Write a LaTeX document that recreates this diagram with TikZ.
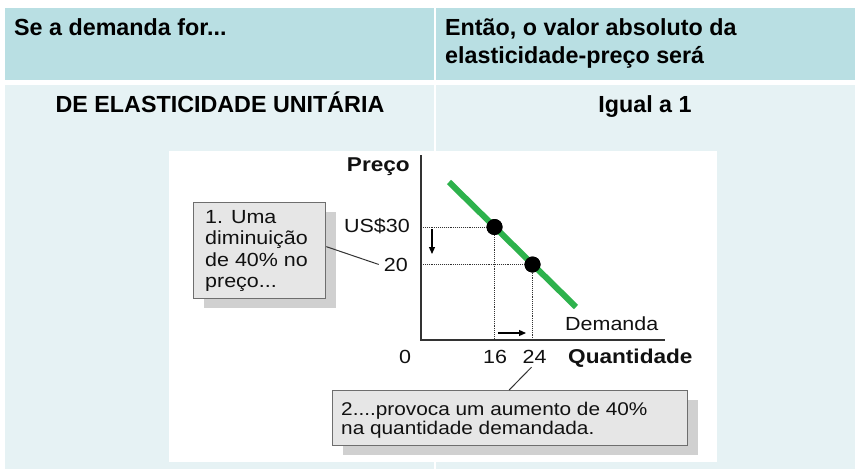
\documentclass[tikz,border=0pt]{standalone}
\usepackage{fontspec}
\setmainfont{Liberation Sans}
\newfontfamily\grf[FakeStretch=1.13]{Liberation Sans}
\usetikzlibrary{arrows.meta,shadows}
\definecolor{hdr}{HTML}{B9DFE3}
\definecolor{bdy}{HTML}{E6F2F4}
\definecolor{dgreen}{HTML}{2DB24C}
\definecolor{boxfill}{HTML}{E6E6E6}
\definecolor{shadowgray}{HTML}{D0D0D0}
\definecolor{boxline}{HTML}{6E6E6E}
\definecolor{axisc}{HTML}{333333}
\definecolor{txt}{HTML}{111111}
\tikzset{
  headtxt/.style={inner sep=0pt, text=black, font=\bfseries\fontsize{23.3}{28}\selectfont},
  gtxt/.style={inner sep=0pt, text=txt, font=\grf\fontsize{19}{21.5}\selectfont},
  gbold/.style={inner sep=0pt, text=txt, font=\grf\bfseries\fontsize{20}{22}\selectfont},
  cbox/.style={draw=boxline, line width=1.3pt, fill=boxfill, inner sep=0pt,
    drop shadow={shadow xshift=10pt, shadow yshift=-9pt, fill=shadowgray, opacity=1}},
  leader/.style={draw=axisc, line width=1pt},
  axisline/.style={draw=axisc, line width=1.8pt},
  guide/.style={draw=axisc, line width=0.9pt, densely dotted},
  dot/.style={circle, fill=black, inner sep=0pt, minimum size=16pt},
  smallarrow/.style={draw=black, line width=1.2pt, -{Triangle[length=7pt,width=6pt]}},
}
\begin{document}
\begin{tikzpicture}[x=1pt,y=-1pt]
\useasboundingbox (0,0) rectangle (855,469);
\fill[white] (0,0) rectangle (855,469);
% table
\fill[hdr] (5,8) rectangle (855,80);
\fill[bdy] (5,85) rectangle (855,469);
\draw[white, line width=2.5pt] (435,8) -- (435,469);
\node[headtxt, anchor=base west] (h1) at (14,35) {Se a demanda for...};
\node[headtxt, anchor=base west, align=left] (h2) at (445,63) {Então, o valor absoluto da\\elasticidade-preço será};
\node[headtxt, anchor=base] (r1) at (220,112) {DE ELASTICIDADE UNITÁRIA};
\node[headtxt, anchor=base] (r2) at (645,112) {Igual a 1};
% figure
\fill[white] (169,151) rectangle (717,462);
\coordinate (O) at (421,340);
\coordinate (ytop) at (421,155);
\coordinate (xend) at (665,340);
\coordinate (d1) at (449,182);
\coordinate (d2) at (576,307);
\node[dot] (p1) at (494.5,227) {};
\node[dot] (p2) at (532.5,264.5) {};
\draw[guide] (O |- p1) -- (p1.center) -- (p1.center |- O);
\draw[guide] (O |- p2) -- (p2.center) -- (p2.center |- O);
\draw[dgreen, line width=6pt] (d1) -- (d2);
\node[dot] at (p1) {};
\node[dot] at (p2) {};
\draw[axisline] (ytop) -- (O) -- (xend);
\coordinate (da1) at (432,229);
\coordinate (da2) at (432,254);
\draw[smallarrow] (da1) -- (da2);
\coordinate (ra1) at (498,333);
\coordinate (ra2) at (526,333);
\draw[smallarrow] (ra1) -- (ra2);
% labels
\node[gbold, anchor=base east] (lp) at (410,171) {Preço};
\node[gtxt, anchor=base east] (l30) at (410,232) {US\$30};
\node[gtxt, anchor=base east] (l20) at (408,271) {20};
\node[gtxt, anchor=base] (l0) at (405,363) {0};
\node[gtxt, anchor=base] (l16) at (495,363) {16};
\node[gtxt, anchor=base] (l24) at (534.5,363) {24};
\node[gbold, anchor=base west] (lq) at (568,363) {Quantidade};
\node[gtxt, anchor=base west] (ld) at (565,330) {Demanda};
% callout 1
\node[cbox, anchor=north west, minimum width=132pt, minimum height=96pt] (b1) at (193,202) {};
\node[gtxt, anchor=base west, align=left] (t1) at (205,287.5) {1. Uma\\diminuição\\de 40\% no\\preço...};
\draw[leader] ([yshift=4pt]b1.east) -- ([xshift=-5pt]l20.west);
% callout 2
\node[cbox, anchor=north west, minimum width=355pt, minimum height=55pt] (b2) at (332,390) {};
\node[gtxt, anchor=base west, align=left, font=\grf\fontsize{18.4}{19.5}\selectfont] (t2) at (341,434.5) {2....provoca um aumento de 40\%\\na quantidade demandada.};
\draw[leader] ([xshift=-1pt]b2.north) -- ([xshift=-3pt,yshift=-4pt]l24.south);
\end{tikzpicture}
\end{document}
